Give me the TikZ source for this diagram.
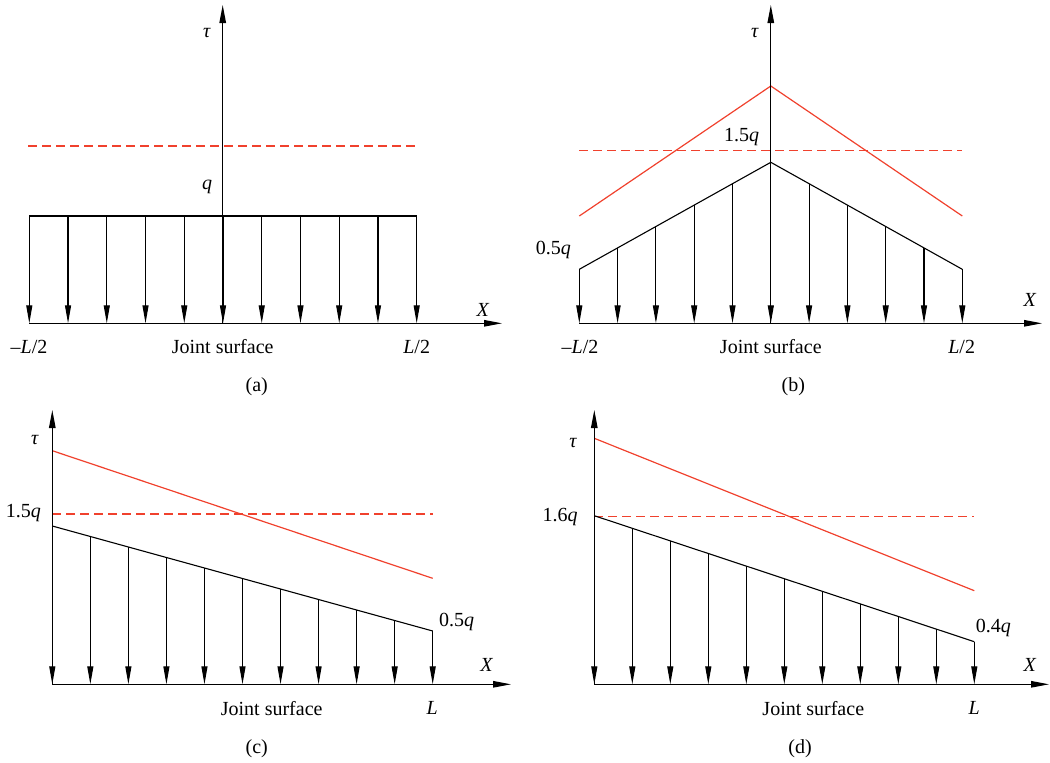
\documentclass[tikz,border=0pt]{standalone}
\usepackage{fontspec}
\setmainfont{Liberation Serif}
\usetikzlibrary{arrows.meta}
\definecolor{redl}{RGB}{240,65,45}
\begin{document}
\begin{tikzpicture}[x=1pt,y=-1pt,
  lbl/.style={font=\fontsize{20}{22}\selectfont, inner sep=0pt},
  axisline/.style={line width=1.1pt, -{Triangle[length=18pt,width=6.5pt]}},
  loadarrow/.style={line width=1.1pt, -{Triangle[length=18pt,width=6pt]}},
  loadline/.style={line width=1.1pt},
  redsolid/.style={draw=redl, line width=1.2pt},
  reddash/.style={draw=redl, line width=1.2pt, dash pattern=on 9pt off 5pt},
]
\useasboundingbox (0,0) rectangle (1050,763);

% ---------------- panel (a)
\coordinate (aO) at (222.7,323.3);
\coordinate (aYt) at (222.7,5);
\coordinate (aXl) at (29.3,323.3);
\coordinate (aXr) at (502,323.3);
\coordinate (aDl) at (28,146);
\coordinate (aDr) at (418,146);
\coordinate (aLl) at (29.3,216);
\coordinate (aLr) at (416.7,216);
\draw[reddash] (aDl) -- (aDr);
\draw[loadline] (aLl) -- (aLr);
\foreach \i in {0,...,10} {
  \pgfmathsetmacro\xx{29.3+38.74*\i}
  \coordinate (at\i) at (\xx,216);
  \coordinate (ab\i) at (\xx,323.3);
  \draw[loadarrow] (at\i) -- (ab\i);
}
\draw[axisline] (aXl) -- (aXr);
\draw[axisline] (aO) -- (aYt);
\node[lbl] (atau) at (207,33) {\textit{τ}};
\node[lbl] (aq) at (207,187) {\textit{q}};
\node[lbl] (aX) at (483,310) {\textit{X}};
\node[lbl] (aL1) at (29,347) {–\textit{L}/2};
\node[lbl] (aJ) at (222.7,347) {Joint surface};
\node[lbl] (aL2) at (416.7,347) {\textit{L}/2};
\node[lbl] (acap) at (256.7,386.7) {(a)};

% ---------------- panel (b)
\coordinate (bO) at (770.8,323.3);
\coordinate (bYt) at (770.8,5);
\coordinate (bXl) at (579.3,323.3);
\coordinate (bXr) at (1042,323.3);
\coordinate (bDl) at (579.3,150.7);
\coordinate (bDr) at (962.3,150.7);
\coordinate (bRl) at (579.3,216);
\coordinate (bRc) at (770.8,86);
\coordinate (bRr) at (962.3,216);
\coordinate (bLl) at (579.3,269.3);
\coordinate (bLc) at (770.8,162.3);
\coordinate (bLr) at (962.3,269.3);
\draw[reddash] (bDl) -- (bDr);
\draw[redsolid] (bRl) -- (bRc) -- (bRr);
\draw[loadline] (bLl) -- (bLc) -- (bLr);
\foreach \i in {0,...,10} {
  \pgfmathsetmacro\xx{579.3+38.3*\i}
  \pgfmathsetmacro\yy{162.3+107*abs(\i-5)/5}
  \coordinate (bt\i) at (\xx,\yy);
  \coordinate (bb\i) at (\xx,323.3);
  \draw[loadarrow] (bt\i) -- (bb\i);
}
\draw[axisline] (bXl) -- (bXr);
\draw[axisline] (bO) -- (bYt);
\node[lbl] (btau) at (755,33) {\textit{τ}};
\node[lbl] (b15) at (741.7,136.7) {1.5\textit{q}};
\node[lbl] (b05) at (553.3,250) {0.5\textit{q}};
\node[lbl] (bX) at (1030,300) {\textit{X}};
\node[lbl] (bL1) at (580,347) {–\textit{L}/2};
\node[lbl] (bJ) at (770.8,347) {Joint surface};
\node[lbl] (bL2) at (961.7,347) {\textit{L}/2};
\node[lbl] (bcap) at (793.3,386.7) {(b)};

% ---------------- panel (c)
\coordinate (cO) at (52.3,684.3);
\coordinate (cYt) at (52.3,410);
\coordinate (cXr) at (511,684.3);
\coordinate (cDl) at (52.3,514);
\coordinate (cDr) at (432.7,514);
\coordinate (cRl) at (52.3,450.7);
\coordinate (cRr) at (432.7,578.3);
\coordinate (cLl) at (52.3,526);
\coordinate (cLr) at (432.7,631);
\draw[reddash] (cDl) -- (cDr);
\draw[redsolid] (cRl) -- (cRr);
\draw[loadline] (cLl) -- (cLr);
\foreach \i in {0,...,10} {
  \pgfmathsetmacro\xx{52.3+38.04*\i}
  \pgfmathsetmacro\yy{526+10.5*\i}
  \coordinate (ct\i) at (\xx,\yy);
  \coordinate (cb\i) at (\xx,684.3);
  \draw[loadarrow] (ct\i) -- (cb\i);
}
\draw[axisline] (cO) -- (cXr);
\draw[axisline] (cO) -- (cYt);
\node[lbl] (ctau) at (35,440) {\textit{τ}};
\node[lbl] (c15) at (23.3,513.3) {1.5\textit{q}};
\node[lbl] (c05) at (456.7,621.7) {0.5\textit{q}};
\node[lbl] (cX) at (486.7,665) {\textit{X}};
\node[lbl] (cJ) at (271.7,708.3) {Joint surface};
\node[lbl] (cL) at (432.3,708.3) {\textit{L}};
\node[lbl] (ccap) at (256.7,748.3) {(c)};

% ---------------- panel (d)
\coordinate (dO) at (594.3,684.3);
\coordinate (dYt) at (594.3,410);
\coordinate (dXr) at (1049,684.3);
\coordinate (dDl) at (594.3,516.7);
\coordinate (dDr) at (974.3,516.7);
\coordinate (dRl) at (594.3,438.3);
\coordinate (dRr) at (974.3,590.7);
\coordinate (dLl) at (594.3,515.7);
\coordinate (dLr) at (974.3,641.7);
\draw[reddash] (dDl) -- (dDr);
\draw[redsolid] (dRl) -- (dRr);
\draw[loadline] (dLl) -- (dLr);
\foreach \i in {0,...,10} {
  \pgfmathsetmacro\xx{594.3+38*\i}
  \pgfmathsetmacro\yy{515.7+12.6*\i}
  \coordinate (dt\i) at (\xx,\yy);
  \coordinate (db\i) at (\xx,684.3);
  \draw[loadarrow] (dt\i) -- (db\i);
}
\draw[axisline] (dO) -- (dXr);
\draw[axisline] (dO) -- (dYt);
\node[lbl] (dtau) at (573.3,443.3) {\textit{τ}};
\node[lbl] (d16) at (560,516.7) {1.6\textit{q}};
\node[lbl] (d04) at (993.3,628.3) {0.4\textit{q}};
\node[lbl] (dX) at (1030,665) {\textit{X}};
\node[lbl] (dJ) at (813.3,708.3) {Joint surface};
\node[lbl] (dL) at (974.3,708.3) {\textit{L}};
\node[lbl] (dcap) at (800,748.3) {(d)};
\end{tikzpicture}
\end{document}
